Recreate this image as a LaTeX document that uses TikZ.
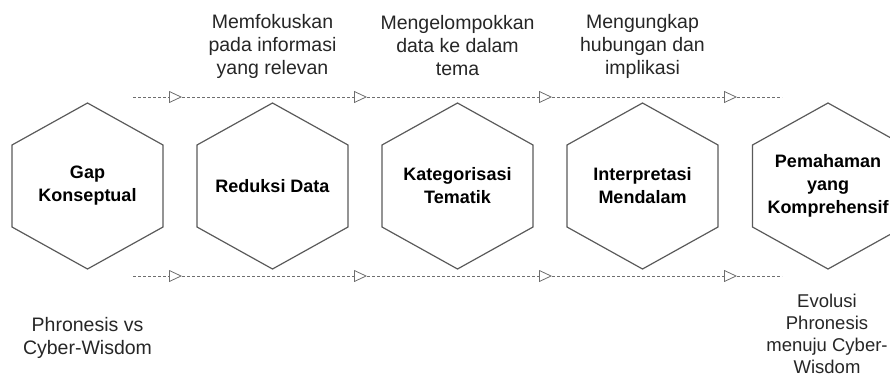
\documentclass[tikz,border=0pt]{standalone}
\usepackage{fontspec}
\setmainfont{Liberation Sans}
\usepackage{tikz}
\usetikzlibrary{positioning,arrows.meta,calc}
\definecolor{hexgray}{HTML}{5A5A5A}
\definecolor{flowgray}{HTML}{6E6E6E}
\definecolor{notegray}{HTML}{262626}
% hexagon round a named node
\newcommand{\hexframe}[1]{\draw[hexline] ($(#1.center)+(0,-83)$) -- ($(#1.center)+(75.5,-41)$) -- ($(#1.center)+(75.5,41)$) -- ($(#1.center)+(0,83)$) -- ($(#1.center)+(-75.5,41)$) -- ($(#1.center)+(-75.5,-41)$) -- cycle;}

\begin{document}
\begin{tikzpicture}[x=1pt,y=-1pt,>={Triangle[open,length=13pt,width=12pt]}]

\tikzstyle{hexline} = [draw=hexgray, line width=1.2pt]
\tikzstyle{hexlabel} = [align=center, font=\fontsize{18}{23}\selectfont\bfseries, text=black, inner sep=0pt]
\tikzstyle{note} = [align=center, font=\fontsize{19.5}{23}\selectfont, text=notegray, inner sep=0pt]
\tikzstyle{flow} = [draw=flowgray, dash pattern=on 3pt off 2pt, line width=0.8pt]

\useasboundingbox (0,0) rectangle (890,378);

% stages
\node [hexlabel] (gap) at (87.5,186) {Gap\\Konseptual};
\node [hexlabel] (reduksi) at (272.5,186) {Reduksi Data};
\node [hexlabel] (kategori) at (457.5,186) {Kategorisasi\\Tematik};
\node [hexlabel] (interp) at (642.5,186) {Interpretasi\\Mendalam};
\node [hexlabel] (paham) at (828,186) {Pemahaman\\yang\\Komprehensif};
\hexframe{gap}
\hexframe{reduksi}
\hexframe{kategori}
\hexframe{interp}
\hexframe{paham}

% notes above
\node [note] (fokus) at (272.5,46) {Memfokuskan\\pada informasi\\yang relevan};
\node [note] (kelompok) at (457.5,46) {Mengelompokkan\\data ke dalam\\tema};
\node [note] (ungkap) at (642.5,46) {Mengungkap\\hubungan dan\\implikasi};

% notes below
\node [note] (awal) at (87.5,338) {Phronesis vs\\Cyber-Wisdom};
\node [note, font=\fontsize{18.5}{22}\selectfont] (akhir) at (827,334) {Evolusi\\Phronesis\\menuju Cyber-\\Wisdom};

% upper flow
\coordinate (t0) at (133,97);
\coordinate (t1) at (182,97);
\coordinate (t2) at (367,97);
\coordinate (t3) at (552,97);
\coordinate (t4) at (737,97);
\coordinate (t5) at (782,97);
\draw [flow,->] (t0) -- (t1);
\draw [flow,->] (t1) -- (t2);
\draw [flow,->] (t2) -- (t3);
\draw [flow,->] (t3) -- (t4);
\draw [flow] (t4) -- (t5);

% lower flow
\coordinate (b0) at (133,276);
\coordinate (b1) at (182,276);
\coordinate (b2) at (367,276);
\coordinate (b3) at (552,276);
\coordinate (b4) at (737,276);
\coordinate (b5) at (782,276);
\draw [flow,->] (b0) -- (b1);
\draw [flow,->] (b1) -- (b2);
\draw [flow,->] (b2) -- (b3);
\draw [flow,->] (b3) -- (b4);
\draw [flow] (b4) -- (b5);

\end{tikzpicture}
\end{document}
